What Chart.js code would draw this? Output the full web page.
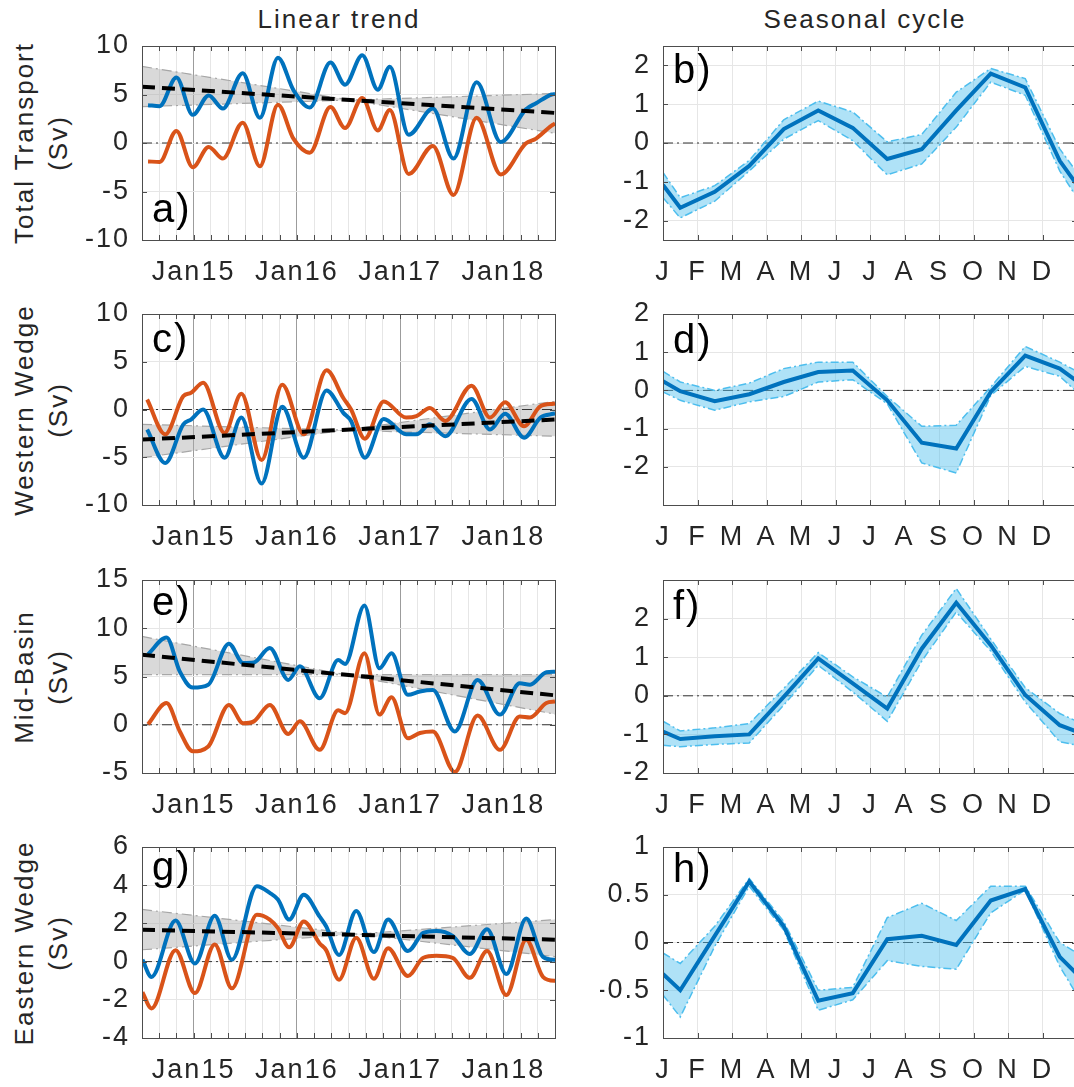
<!DOCTYPE html>
<html>
<head>
<meta charset="utf-8">
<script src="https://cdn.jsdelivr.net/npm/chart.js@4.4.0/dist/chart.umd.min.js"></script>
<style>
  html, body { margin: 0; padding: 0; background: #fff; overflow: hidden; }
  body { width: 1074px; height: 1087px; position: relative; font-family: "Liberation Sans", Arial, sans-serif; color: #262626; }
  canvas { position: absolute; }
  .title { position: absolute; font-size: 26px; letter-spacing: 2px; line-height: 26px; white-space: nowrap; transform: translateX(-50%); }
  .rowlab { position: absolute; font-size: 26px; letter-spacing: 2px; line-height: 34px; text-align: center; white-space: nowrap; transform: translate(-50%, -50%) rotate(-90deg); }
</style>
</head>
<body>
<div class="title" style="left:339px; top:6px">Linear trend</div>
<div class="title" style="left:865px; top:6px">Seasonal cycle</div>
<div id="labels"></div>

<script>
// ---- tick labels ----
const yearTicks = ['Jan15', 'Jan16', 'Jan17', 'Jan18'];   // at months 12, 24, 36, 48 (months since Jan 2014)
const monthTicks = ['J', 'F', 'M', 'A', 'M', 'J', 'J', 'A', 'S', 'O', 'N', 'D'];
const rowNames = ['Total Transport', 'Western Wedge', 'Mid-Basin', 'Eastern Wedge'];

// ---- linear trend panels (x = months since Jan 2014) ----
const monthsA = [6.7, 8.05, 10.0, 11.9, 13.75, 15.4, 17.7, 19.7, 21.8, 23.6, 25.5, 27.9, 29.6, 31.6, 33.4, 34.8, 37.0, 39.8, 42.2, 44.9, 47.7, 50.6, 51.8, 53.6, 54];
const blueA   = [3.9, 3.8, 6.75, 2.9, 4.9, 3.55, 7.2, 2.6, 8.8, 5.45, 3.65, 8.3, 6.0, 9.05, 5.5, 7.85, 0.85, 3.55, -1.6, 6.25, 0.1, 3.45, 4.1, 5.0, 5.05];
const orangeA = [-1.9, -1.95, 1.25, -2.5, -0.4, -1.6, 2.1, -2.4, 3.95, 0.45, -1.0, 3.7, 1.55, 4.65, 1.3, 3.4, -3.2, -0.3, -5.35, 2.6, -3.25, -0.05, 0.45, 1.8, 2.0];
const trendA = [5.8, 3.1];
const bandA1 = [7.9, 1.0];
const bandA2 = [3.75, 5.1];

const monthsC = [6.6, 8.7, 10.8, 11.7, 13.1, 15.6, 17.55, 19.9, 22.3, 24.8, 27.45, 29.4, 30.3, 31.9, 34.1, 36.7, 37.9, 39.45, 41.25, 44.3, 46.45, 48.2, 50.4, 52.3, 53.8, 54];
const blueC   = [-2.1, -5.6, -1.55, -1.05, 0.0, -5.05, -0.85, -7.75, 0.3, -5.05, 2.0, -0.35, -1.2, -5.05, -1.0, -2.6, -2.6, -1.55, -2.8, 1.1, -2.1, -0.45, -2.95, -0.85, -0.45, -0.42];
const orangeC = [1.05, -2.6, 1.4, 1.75, 2.8, -2.45, 1.65, -5.3, 2.6, -2.6, 4.1, 1.2, 0.0, -3.05, 0.85, -0.85, -0.7, 0.15, -1.2, 2.5, -0.85, 0.75, -1.75, 0.35, 0.6, 0.62];
const trendC = [-3.15, -1.05];
const bandC1 = [-1.55, -2.8];
const bandC2 = [-5.05, 0.85];

const monthsE = [6.7, 8.85, 10.4, 11.9, 13.7, 16.1, 17.75, 19.0, 20.85, 23.0, 24.35, 26.65, 28.8, 29.6, 31.85, 33.6, 35.0, 36.9, 38.3, 39.8, 42.35, 45.0, 47.6, 49.9, 51.1, 53.0, 54];
const blueE   = [7.3, 9.05, 5.5, 3.85, 4.15, 8.4, 6.4, 6.45, 7.95, 4.65, 6.05, 2.75, 6.7, 6.3, 12.35, 5.85, 7.4, 3.1, 3.45, 3.6, -0.7, 4.65, 1.05, 4.3, 4.15, 5.45, 5.5];
const orangeE = [0.05, 2.25, -0.7, -2.75, -2.25, 2.05, 0.15, 0.35, 2.05, -0.95, 0.35, -2.6, 1.5, 1.2, 7.4, 1.05, 2.85, -1.4, -0.85, -0.7, -4.9, 0.95, -2.6, 0.85, 0.75, 2.25, 2.4];
const trendE = [7.25, 3.05];
const bandE1 = [9.15, 1.1];
const bandE2 = [5.2, 5.2];

const monthsG = [6.05, 7.1, 9.9, 12.15, 14.45, 16.45, 19.35, 20.85, 21.8, 23.1, 24.8, 26.65, 27.4, 28.9, 30.9, 32.95, 34.6, 36.9, 38.7, 40.2, 42.1, 44.1, 46.1, 48.35, 50.65, 52.6, 53.9, 54];
const blueG   = [0.1, -0.8, 2.15, -0.1, 2.4, 0.1, 3.95, 3.6, 3.25, 2.2, 3.5, 2.35, 1.85, 0.35, 2.65, 0.5, 2.2, 0.55, 1.5, 1.6, 1.35, 0.4, 1.7, -0.65, 2.25, 0.25, 0.1, 0.1];
const orangeG = [-1.6, -2.45, 0.6, -1.65, 0.9, -1.4, 2.45, 2.2, 1.75, 0.75, 2.1, 0.95, 0.6, -0.95, 1.25, -0.9, 0.7, -0.75, 0.2, 0.3, 0.2, -0.85, 0.55, -1.75, 1.15, -0.8, -1.0, -1.0];
const trendG = [1.67, 1.15];
const bandG1 = [2.73, 0.26];
const bandG2 = [0.62, 2.2];

// ---- seasonal cycle panels (x = month of year, mid-month points) ----
const seasonX = [0, 0.5, 1.5, 2.5, 3.5, 4.5, 5.5, 6.5, 7.5, 8.5, 9.5, 10.5, 11.5, 12];
const meanB  = [-1.08, -1.67, -1.26, -0.59, 0.36, 0.84, 0.39, -0.41, -0.16, 0.84, 1.79, 1.43, -0.46, -1.08];
const upperB = [-0.76, -1.41, -1.1, -0.45, 0.6, 1.08, 0.8, 0.03, 0.22, 1.31, 1.92, 1.66, -0.15, -0.76];
const lowerB = [-1.41, -1.93, -1.5, -0.72, 0.1, 0.58, 0.06, -0.82, -0.54, 0.41, 1.57, 1.23, -0.72, -1.41];

const meanD  = [0.24, -0.02, -0.28, -0.1, 0.22, 0.48, 0.52, -0.26, -1.37, -1.52, -0.04, 0.91, 0.57, 0.24];
const upperD = [0.5, 0.22, 0.0, 0.19, 0.57, 0.74, 0.74, -0.16, -0.94, -0.91, 0.09, 1.15, 0.74, 0.5];
const lowerD = [-0.04, -0.26, -0.52, -0.3, -0.16, 0.22, 0.28, -0.35, -1.9, -2.16, -0.13, 0.63, 0.37, -0.04];

const meanF  = [-0.93, -1.12, -1.05, -1.0, -0.03, 0.97, 0.32, -0.33, 1.22, 2.41, 1.31, 0.02, -0.76, -0.93];
const upperF = [-0.66, -0.91, -0.83, -0.72, 0.19, 1.12, 0.49, -0.03, 1.57, 2.78, 1.47, 0.21, -0.46, -0.66];
const lowerF = [-1.28, -1.32, -1.26, -1.22, -0.24, 0.79, 0.1, -0.66, 0.9, 2.17, 1.16, -0.16, -1.19, -1.28];

const meanH  = [-0.33, -0.5, 0.07, 0.64, 0.17, -0.61, -0.53, 0.035, 0.07, -0.025, 0.44, 0.56, -0.15, -0.33];
const upperH = [-0.11, -0.22, 0.17, 0.67, 0.22, -0.5, -0.47, 0.26, 0.41, 0.23, 0.59, 0.59, 0.0, -0.11];
const lowerH = [-0.55, -0.78, -0.04, 0.59, 0.13, -0.71, -0.6, -0.19, -0.25, -0.28, 0.31, 0.55, -0.25, -0.55];

// ---- layout ----
const ROWS = [[46, 240], [314, 505], [580, 773], [847, 1038]];
const COLS = [{ canvasX: 80, plotL: 142, plotR: 555 }, { canvasX: 600, plotL: 663, plotR: 1077 }];
const PAD_TOP = 20, X_AXIS_H = 50, PAD_RIGHT = 8;
const FONT = '"Liberation Sans", Arial, sans-serif';
const BLUE = '#0072BD', ORANGE = '#D95319', LIGHTBLUE = '#4DBEEE';

Chart.defaults.font.family = FONT;
Chart.defaults.font.size = 27;
Chart.defaults.color = '#262626';

function pts(xs, ys) {
    return xs.map((x, i) => ({ x: x, y: ys[i] }));
}

function makeCanvas(col, row) {
    const c = document.createElement('canvas');
    const [top, bottom] = ROWS[row];
    c.width = col.plotR - col.canvasX + PAD_RIGHT;
    c.height = PAD_TOP + (bottom - top) + X_AXIS_H;
    c.style.left = col.canvasX + 'px';
    c.style.top = (top - PAD_TOP) + 'px';
    document.body.appendChild(c);
    return c;
}

function framePlugin(letter, letterY) {
    return {
        id: 'frame',
        beforeDraw(chart) {
            chart.ctx.letterSpacing = '2px';
        },
        afterDraw(chart) {
            const { ctx, chartArea: ca, scales } = chart;
            ctx.save();
            ctx.strokeStyle = '#4d4d4d';
            ctx.lineWidth = 1;
            ctx.setLineDash([]);
            ctx.beginPath();
            scales.x.ticks.forEach(t => {
                const px = Math.round(scales.x.getPixelForValue(t.value)) + 0.5;
                ctx.moveTo(px, ca.top); ctx.lineTo(px, ca.top + 5);
                ctx.moveTo(px, ca.bottom); ctx.lineTo(px, ca.bottom - 5);
            });
            scales.y.ticks.forEach(t => {
                const py = Math.round(scales.y.getPixelForValue(t.value)) + 0.5;
                ctx.moveTo(ca.left, py); ctx.lineTo(ca.left + 5, py);
                ctx.moveTo(ca.right, py); ctx.lineTo(ca.right - 5, py);
            });
            ctx.stroke();
            ctx.strokeRect(Math.round(ca.left) + 0.5, Math.round(ca.top) + 0.5, Math.round(ca.width), Math.round(ca.height));
            ctx.letterSpacing = '2px';
            ctx.font = '40px ' + FONT;
            ctx.fillStyle = '#000';
            ctx.textAlign = 'left';
            ctx.textBaseline = 'alphabetic';
            const y = letterY < 0 ? ca.bottom + letterY : ca.top + letterY;
            ctx.fillText(letter, ca.left + 10, y);
            ctx.restore();
        }
    };
}

function baseOptions(col, xScale, yScale) {
    return {
        responsive: false,
        animation: false,
        events: [],
        layout: { padding: { top: PAD_TOP, right: PAD_RIGHT, left: 0, bottom: 0 } },
        plugins: { legend: { display: false }, tooltip: { enabled: false } },
        elements: { point: { radius: 0 } },
        scales: {
            x: Object.assign({
                type: 'linear',
                border: { display: false },
                afterFit: s => { s.height = X_AXIS_H; s.paddingLeft = 0; s.paddingRight = 0; }
            }, xScale),
            y: Object.assign({
                border: { display: false },
                afterFit: s => { s.width = col.plotL - col.canvasX; s.paddingTop = 0; s.paddingBottom = 0; }
            }, yScale)
        }
    };
}

function trendChart(row, letter, letterY, months, blue, orange, trend, band1, band2, yMin, yMax, yStep) {
    const col = COLS[0];
    const canvas = makeCanvas(col, row);
    const x0 = 6, x1 = 54;
    new Chart(canvas, {
        type: 'line',
        data: {
            datasets: [
                { data: pts([x0, x1], trend), borderColor: '#000', borderWidth: 4, borderDash: [13, 7] },
                { data: pts(months, blue), borderColor: BLUE, borderWidth: 4, cubicInterpolationMode: 'monotone' },
                { data: pts(months, orange), borderColor: ORANGE, borderWidth: 4, cubicInterpolationMode: 'monotone' },
                { data: pts([x0, x1], [0, 0]), borderColor: '#333', borderWidth: 1, borderDash: [10, 4, 2, 4] },
                { data: pts([x0, x1], band1), borderColor: '#a6a6a6', borderWidth: 1.2, borderDash: [10, 4, 2, 4],
                  fill: '+1', backgroundColor: 'rgba(170,170,170,0.45)' },
                { data: pts([x0, x1], band2), borderColor: '#a6a6a6', borderWidth: 1.2, borderDash: [10, 4, 2, 4] }
            ]
        },
        options: baseOptions(col, {
            min: x0, max: x1,
            ticks: {
                stepSize: 2, autoSkip: false, maxRotation: 0, padding: 16,
                callback: v => (v % 12 === 0 ? yearTicks[v / 12 - 1] || '' : '')
            },
            grid: {
                drawTicks: false,
                color: c => (c.tick && c.tick.value % 12 === 0) ? '#9c9c9c' : '#e6e6e6'
            }
        }, {
            min: yMin, max: yMax,
            ticks: { stepSize: yStep, padding: 12, callback: v => String(v) },
            grid: { drawTicks: false, color: '#e6e6e6' }
        }),
        plugins: [framePlugin(letter, letterY)]
    });
}

function seasonChart(row, letter, letterY, mean, upper, lower, yMin, yMax, yTicks) {
    const col = COLS[1];
    const canvas = makeCanvas(col, row);
    new Chart(canvas, {
        type: 'line',
        data: {
            datasets: [
                { data: pts(seasonX, mean), borderColor: BLUE, borderWidth: 4, tension: 0 },
                { data: pts(seasonX, upper), borderColor: LIGHTBLUE, borderWidth: 1.5, borderDash: [8, 3, 2, 3], tension: 0,
                  fill: '+1', backgroundColor: 'rgba(77,190,238,0.45)' },
                { data: pts(seasonX, lower), borderColor: LIGHTBLUE, borderWidth: 1.5, borderDash: [8, 3, 2, 3], tension: 0 },
                { data: pts([0, 12], [0, 0]), borderColor: '#333', borderWidth: 1, borderDash: [10, 4, 2, 4] }
            ]
        },
        options: baseOptions(col, {
            min: 0, max: 12,
            ticks: { stepSize: 1, autoSkip: false, maxRotation: 0, padding: 16, callback: v => monthTicks[v] || '' },
            grid: { drawTicks: false, color: '#e6e6e6' }
        }, {
            min: yMin, max: yMax,
            afterBuildTicks: s => { s.ticks = yTicks.map(v => ({ value: v })); },
            ticks: { padding: 12, callback: v => String(v) },
            grid: { drawTicks: false, color: '#e6e6e6' }
        }),
        plugins: [framePlugin(letter, letterY)]
    });
}

// row labels
const labels = document.getElementById('labels');
rowNames.forEach((name, i) => {
    const d = document.createElement('div');
    d.className = 'rowlab';
    d.style.left = '41px';
    d.style.top = ((ROWS[i][0] + ROWS[i][1]) / 2) + 'px';
    d.innerHTML = name + '<br>(Sv)';
    labels.appendChild(d);
});

trendChart(0, 'a)', -18, monthsA, blueA, orangeA, trendA, bandA1, bandA2, -10, 10, 5);
trendChart(1, 'c)', 38, monthsC, blueC, orangeC, trendC, bandC1, bandC2, -10, 10, 5);
trendChart(2, 'e)', 35, monthsE, blueE, orangeE, trendE, bandE1, bandE2, -5, 15, 5);
trendChart(3, 'g)', 33, monthsG, blueG, orangeG, trendG, bandG1, bandG2, -4, 6, 2);

seasonChart(0, 'b)', 37, meanB, upperB, lowerB, -2.5, 2.5, [-2, -1, 0, 1, 2]);
seasonChart(1, 'd)', 39, meanD, upperD, lowerD, -3, 2, [-2, -1, 0, 1, 2]);
seasonChart(2, 'f)', 39, meanF, upperF, lowerF, -2, 3, [-2, -1, 0, 1, 2]);
seasonChart(3, 'h)', 35, meanH, upperH, lowerH, -1, 1, [-1, -0.5, 0, 0.5, 1]);
</script>
</body>
</html>
